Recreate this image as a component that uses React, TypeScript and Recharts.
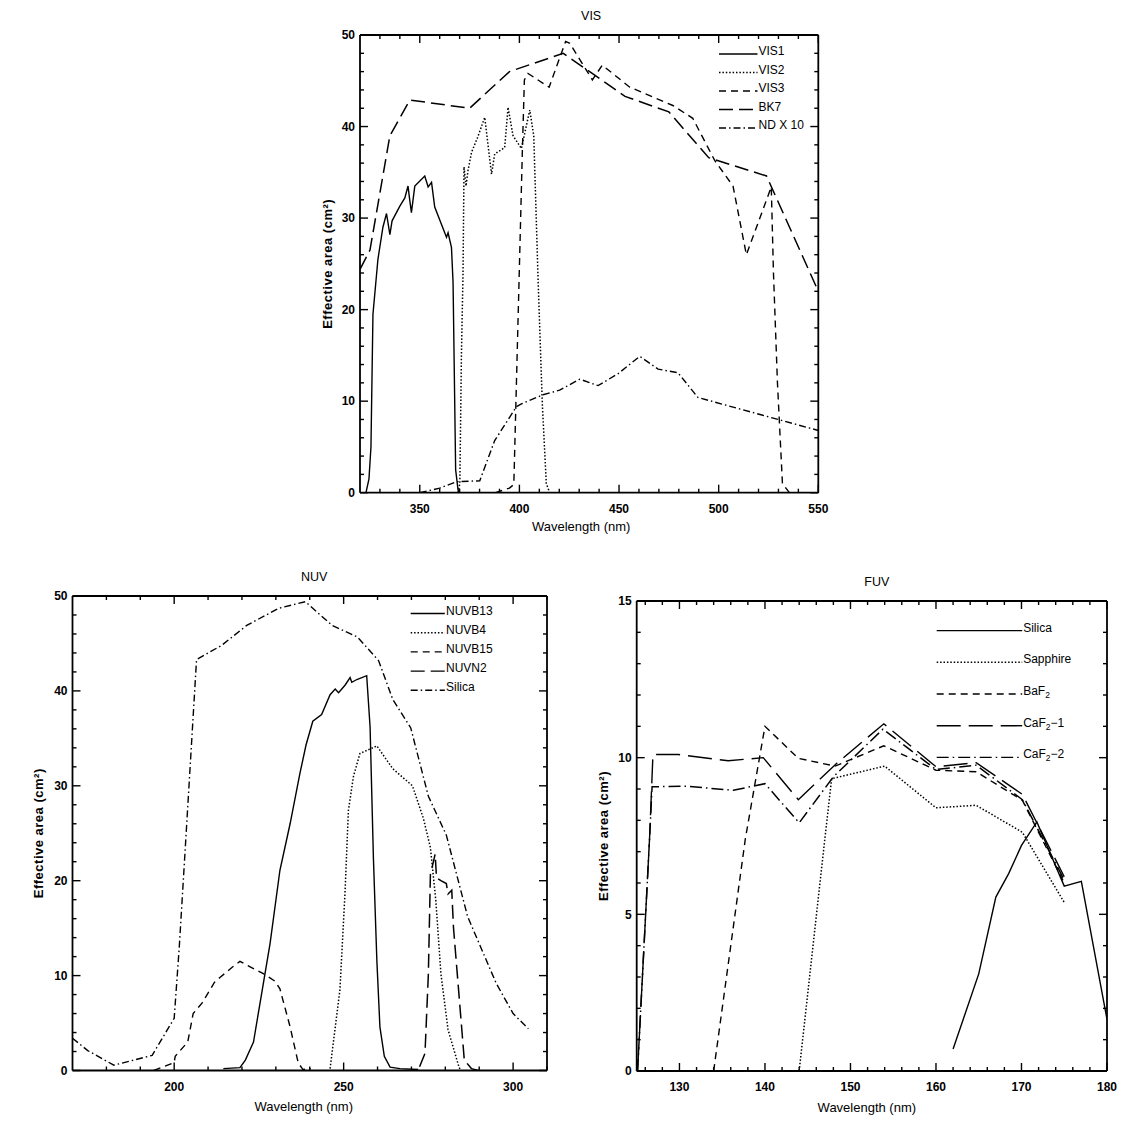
import React from 'react';
import { LineChart, Line, XAxis, YAxis } from 'recharts';

const FONT = '"Liberation Sans", Arial, Helvetica, sans-serif';

// ---------------- VIS panel data ----------------
const VIS_X_MAJOR = [350, 400, 450, 500, 550];
const VIS_Y_MAJOR = [0, 10, 20, 30, 40, 50];

const VIS1_WL = [323, 324.5, 325.5, 326.5, 329, 331.5, 333.3, 335, 336.1, 340, 342.5, 344.1, 345, 345.8, 347.5, 352.5, 354.2, 355.9, 357.5, 363.4, 364.2, 365.9, 366.7, 368, 369.2, 370];
const VIS1_AREA = [0, 1.5, 5, 19.5, 25.5, 29, 30.5, 28.2, 29.7, 31.3, 32.2, 33.5, 31.9, 30.6, 33.5, 34.6, 33.4, 33.9, 31.2, 27.9, 28.4, 26.8, 23, 2.5, 0.3, 0];

const VIS2_WL = [369.2, 370.1, 370.9, 371.7, 372.2, 373.2, 374.2, 376, 379, 382.6, 386, 387.6, 392.6, 394.3, 396.8, 401, 405.2, 407.2, 409.4, 411.5, 413.5, 415.2];
const VIS2_AREA = [0, 1, 15, 24, 35.6, 33.5, 35.2, 37.2, 38.8, 41, 34.8, 37, 37.7, 42.1, 39, 37.6, 41.8, 39, 23.1, 9.7, 1, 0];

const VIS3_WL = [388, 395, 397.2, 399.8, 401.5, 402.5, 404.3, 414.9, 423.2, 425.3, 436.6, 441.6, 455.4, 477, 487, 498, 507.2, 513.9, 526.4, 527.5, 529.5, 532, 535.5];
const VIS3_AREA = [0, 0.5, 0.9, 23, 37.5, 45.1, 45.8, 44.3, 49.3, 49.1, 45.1, 46.7, 44.3, 42.3, 40.9, 36.3, 33.5, 26, 33.4, 24, 12, 1, 0];

const BK7_WL = [320, 325, 335, 345, 375, 395, 422, 453, 475, 495, 524, 550];
const BK7_AREA = [24.4, 26.5, 39, 42.9, 42, 46, 48, 43.3, 41.6, 36.6, 34.6, 22];

const ND_WL = [350, 360, 368.4, 380.1, 387.6, 398.5, 401, 411.9, 420.2, 430.3, 439.5, 449.5, 460.4, 469.6, 479.6, 489.6, 550];
const ND_AREA = [0, 0.5, 1.2, 1.3, 5.7, 9.4, 9.7, 10.7, 11.2, 12.4, 11.7, 13, 14.9, 13.5, 13.1, 10.4, 6.8];

// ---------------- NUV panel data ----------------
const NUV_X_MAJOR = [200, 250, 300];
const NUV_Y_MAJOR = [0, 10, 20, 30, 40, 50];

const NUVB13_WL = [214.5, 219.4, 221, 223.4, 228.3, 231.2, 234.2, 237.1, 238.9, 240.9, 243.5, 246, 247.5, 248.5, 250.4, 251.9, 252.4, 253.9, 256.8, 257.8, 258.8, 259.8, 260.7, 262, 263.7, 266.6, 272];
const NUVB13_AREA = [0.2, 0.3, 1.1, 3, 13.4, 21.1, 26, 31.3, 34.3, 36.8, 37.5, 39.6, 40.2, 39.8, 40.6, 41.4, 40.9, 41.2, 41.6, 36.2, 22.2, 11.6, 4.6, 1.5, 0.35, 0.2, 0.1];

const NUVB4_WL = [246, 248.9, 250.4, 251.4, 252.9, 254.8, 259.8, 264.5, 270.3, 273.5, 275.6, 277.2, 278.7, 280.8, 284, 284.5];
const NUVB4_AREA = [0.2, 8.5, 18.7, 27.4, 31, 33.4, 34.2, 31.8, 30, 26.6, 23.5, 17.9, 10.2, 4.3, 0.4, 0];

const NUVB15_WL = [194, 200, 200.3, 204, 205.6, 208.2, 211.9, 213.5, 217.2, 219.4, 222, 226.3, 229.8, 231.2, 234.2, 236.6, 238, 240.3];
const NUVB15_AREA = [0, 0.84, 1.5, 3, 6, 7.1, 9.3, 9.8, 10.9, 11.5, 11, 10.2, 9.4, 8.6, 4.6, 0.8, 0.1, 0.2];

const NUVN2_WL = [272.4, 274, 275, 275.6, 276.1, 277, 277.4, 278.7, 280.3, 280.8, 281.9, 282.4, 284, 285.6, 287.7, 289.8];
const NUVN2_AREA = [0.4, 1.8, 10.2, 20.7, 21.4, 22.8, 20.3, 20, 19.7, 18.6, 19, 15.1, 8.1, 1.1, 0.2, 0];

const NSIL_WL = [170, 174.5, 182.2, 193.5, 200, 201.5, 203.2, 206.6, 214, 221.4, 230.8, 238.7, 246.6, 254, 260.3, 264.5, 269.8, 275, 280.3, 286.6, 295, 300, 304.5];
const NSIL_AREA = [3.4, 2.1, 0.56, 1.6, 5.5, 13, 23, 43.3, 44.8, 46.9, 48.7, 49.4, 46.9, 45.7, 43.2, 39.1, 36.1, 28.9, 24.8, 16.2, 9.2, 6, 4.4];

// ---------------- FUV panel data ----------------
const FUV_X_MAJOR = [130, 140, 150, 160, 170, 180];
const FUV_Y_MAJOR = [0, 5, 10, 15];

const FSIL_WL = [162, 165, 167, 168.5, 170, 171.8, 175, 177, 180];
const FSIL_AREA = [0.7, 3.1, 5.55, 6.3, 7.2, 7.95, 5.9, 6.05, 1.65];

const SAPH_WL = [144, 147, 147.8, 154, 160, 164.7, 170.1, 175];
const SAPH_AREA = [0, 7.4, 9.33, 9.73, 8.4, 8.48, 7.62, 5.38];

const BAF2_WL = [134, 137.7, 140, 143.9, 148.2, 153.9, 160, 164.7, 170.1, 175];
const BAF2_AREA = [0, 7.4, 11, 9.98, 9.73, 10.38, 9.6, 9.55, 8.64, 6.0];

const CAF1_WL = [125.1, 126.5, 126.9, 129.9, 135.7, 139.8, 143.9, 148.4, 153.9, 160, 164.7, 170.1, 175];
const CAF1_AREA = [0, 7.4, 10.1, 10.1, 9.9, 10, 8.66, 9.82, 11.08, 9.71, 9.84, 8.83, 6.2];

const CAF2_WL = [125.1, 126.5, 126.8, 130.7, 136.3, 140, 144, 148, 153.8, 160, 164.7, 170.1, 175];
const CAF2_AREA = [0, 7.4, 9.07, 9.09, 8.96, 9.17, 7.92, 9.39, 10.91, 9.62, 9.76, 8.66, 6.1];

// ---------------- helpers ----------------
const zip = (xs: number[], ys: number[]) => xs.map((x, i) => ({ x, y: ys[i] }));
const range = (a: number, b: number, s: number) => {
  const out: number[] = [];
  for (let v = a; v <= b + 1e-9; v += s) out.push(Math.round(v * 1000) / 1000);
  return out;
};

const DOT = '1.5 1.9';
const DASH = '7 5';
const LONG = '14 6';
const DASHDOT = '7 3 1.5 3';

type Series = { name: string; data: { x: number; y: number }[]; dash?: string };

type Side = 'bottom' | 'top' | 'left' | 'right';

const makeTick = (side: Side, majors: number[], labels: boolean) => (props: any) => {
  const { x, y, payload } = props;
  const v = payload.value;
  const isMajor = majors.some((m) => Math.abs(m - v) < 1e-6);
  const len = isMajor ? 8 : 4;
  let x2 = x;
  let y2 = y;
  if (side === 'bottom') y2 = y - len;
  if (side === 'top') y2 = y + len;
  if (side === 'left') x2 = x + len;
  if (side === 'right') x2 = x - len;
  return (
    <g>
      <line x1={x} y1={y} x2={x2} y2={y2} stroke="#000" strokeWidth={1.4} />
      {labels && isMajor && side === 'bottom' && (
        <text x={x} y={y + 20} textAnchor="middle" fontFamily={FONT} fontSize={12} fontWeight="bold" fill="#000">
          {v}
        </text>
      )}
      {labels && isMajor && side === 'left' && (
        <text x={x - 5} y={y + 4.3} textAnchor="end" fontFamily={FONT} fontSize={12} fontWeight="bold" fill="#000">
          {v}
        </text>
      )}
    </g>
  );
};

const renderLabel = (s: string) => {
  const parts = s.split('₂');
  if (parts.length === 1) return s;
  const out: any[] = [];
  parts.forEach((p, i) => {
    if (i > 0) {
      out.push(
        <tspan key={'s' + i} fontSize={8.5} dy={3}>
          2
        </tspan>
      );
      out.push(
        <tspan key={'p' + i} dy={-3}>
          {p}
        </tspan>
      );
    } else out.push(<tspan key={'p' + i}>{p}</tspan>);
  });
  return out;
};

type PanelCfg = {
  title: string;
  left: number;
  top: number;
  width: number;
  height: number;
  margin: { top: number; right: number; bottom: number; left: number };
  xDomain: [number, number];
  yDomain: [number, number];
  xMajor: number[];
  xMinor: number[];
  yMajor: number[];
  yMinor: number[];
  series: Series[];
  legend: { x0: number; x1: number; tx: number; y0: number; dy: number; tdy: number };
  titleDx: number;
  xLabelDx: number;
  xLabelDy: number;
  yLabelDx: number;
};

// axes take 1px of room each (Recharts skips drawing zero-size axes)
const AX = 1;

function Panel({ cfg }: { cfg: PanelCfg }) {
  const m = cfg.margin;
  const pw = cfg.width - m.left - m.right;
  const ph = cfg.height - m.top - m.bottom;
  const chartMargin = { top: m.top - AX, right: m.right - AX, bottom: m.bottom - AX, left: m.left - AX };
  const axisLine = { stroke: '#000', strokeWidth: 1.8 };
  const common = {
    type: 'number' as const,
    allowDataOverflow: true,
    interval: 0 as const,
    tickLine: false,
    tickSize: 0,
    tickMargin: 0,
    axisLine,
  };
  const cx = m.left + pw / 2;
  const cy = m.top + ph / 2;
  return (
    <div style={{ position: 'absolute', left: cfg.left, top: cfg.top, width: cfg.width, height: cfg.height }}>
      <LineChart width={cfg.width} height={cfg.height} margin={chartMargin}>
        <XAxis
          {...common}
          xAxisId="b"
          orientation="bottom"
          dataKey="x"
          height={AX}
          domain={cfg.xDomain}
          ticks={cfg.xMinor}
          tick={makeTick('bottom', cfg.xMajor, true)}
        />
        <XAxis
          {...common}
          xAxisId="t"
          orientation="top"
          dataKey="x"
          height={AX}
          domain={cfg.xDomain}
          ticks={cfg.xMinor}
          tick={makeTick('top', cfg.xMajor, false)}
        />
        <YAxis
          {...common}
          yAxisId="l"
          orientation="left"
          width={AX}
          domain={cfg.yDomain}
          ticks={cfg.yMinor}
          tick={makeTick('left', cfg.yMajor, true)}
        />
        <YAxis
          {...common}
          yAxisId="r"
          orientation="right"
          width={AX}
          domain={cfg.yDomain}
          ticks={cfg.yMinor}
          tick={makeTick('right', cfg.yMajor, false)}
        />
        {cfg.series.map((s) => (
          <Line
            key={s.name}
            xAxisId="b"
            yAxisId="l"
            data={s.data}
            dataKey="y"
            name={s.name}
            type="linear"
            stroke="#000"
            strokeWidth={s.dash && s.dash.startsWith('1') ? 1.5 : 1.4}
            strokeDasharray={s.dash}
            dot={false}
            activeDot={false}
            isAnimationActive={false}
          />
        ))}
        <text x={cx + cfg.titleDx} y={m.top - 15.5} textAnchor="middle" fontFamily={FONT} fontSize={12.5} fill="#000">
          {cfg.title}
        </text>
        <text
          x={cx + cfg.xLabelDx}
          y={m.top + ph + cfg.xLabelDy}
          textAnchor="middle"
          fontFamily={FONT}
          fontSize={13}
          fill="#000"
        >
          Wavelength (nm)
        </text>
        <text
          x={m.left + cfg.yLabelDx}
          y={cy}
          transform={`rotate(-90, ${m.left + cfg.yLabelDx}, ${cy})`}
          textAnchor="middle"
          dominantBaseline="central"
          fontFamily={FONT}
          fontSize={13}
          fontWeight="bold"
          letterSpacing={0.5}
          fill="#000"
        >
          Effective area (cm²)
        </text>
        <g>
          {cfg.series.map((s, i) => {
            const ly = m.top + cfg.legend.y0 + i * cfg.legend.dy;
            return (
              <g key={'lg' + s.name}>
                <line
                  x1={m.left + cfg.legend.x0}
                  x2={m.left + cfg.legend.x1}
                  y1={ly}
                  y2={ly}
                  stroke="#000"
                  strokeWidth={1.4}
                  strokeDasharray={s.dash}
                />
                <text x={m.left + cfg.legend.tx} y={ly + cfg.legend.tdy} fontFamily={FONT} fontSize={12} fill="#000">
                  {renderLabel(s.name)}
                </text>
              </g>
            );
          })}
        </g>
      </LineChart>
    </div>
  );
}

const VIS_CFG: PanelCfg = {
  title: 'VIS',
  left: 300,
  top: 0,
  width: 540,
  height: 540,
  margin: { top: 35, right: 21.7, bottom: 47.3, left: 60 },
  xDomain: [320, 550],
  yDomain: [0, 50],
  xMajor: VIS_X_MAJOR,
  xMinor: range(330, 550, 10),
  yMajor: VIS_Y_MAJOR,
  yMinor: range(0, 50, 2),
  series: [
    { name: 'VIS1', data: zip(VIS1_WL, VIS1_AREA) },
    { name: 'VIS2', data: zip(VIS2_WL, VIS2_AREA), dash: DOT },
    { name: 'VIS3', data: zip(VIS3_WL, VIS3_AREA), dash: DASH },
    { name: 'BK7', data: zip(BK7_WL, BK7_AREA), dash: LONG },
    { name: 'ND X 10', data: zip(ND_WL, ND_AREA), dash: DASHDOT },
  ],
  legend: { x0: 359, x1: 397.5, tx: 398.5, y0: 19, dy: 18.5, tdy: 1 },
  titleDx: 2,
  xLabelDx: -8,
  xLabelDy: 38,
  yLabelDx: -32.5,
};

const NUV_CFG: PanelCfg = {
  title: 'NUV',
  left: 0,
  top: 560,
  width: 570,
  height: 563,
  margin: { top: 36, right: 23, bottom: 52.5, left: 72.5 },
  xDomain: [170, 310],
  yDomain: [0, 50],
  xMajor: NUV_X_MAJOR,
  xMinor: range(180, 310, 10),
  yMajor: NUV_Y_MAJOR,
  yMinor: range(0, 50, 2),
  series: [
    { name: 'NUVB13', data: zip(NUVB13_WL, NUVB13_AREA) },
    { name: 'NUVB4', data: zip(NUVB4_WL, NUVB4_AREA), dash: DOT },
    { name: 'NUVB15', data: zip(NUVB15_WL, NUVB15_AREA), dash: DASH },
    { name: 'NUVN2', data: zip(NUVN2_WL, NUVN2_AREA), dash: LONG },
    { name: 'Silica', data: zip(NSIL_WL, NSIL_AREA), dash: DASHDOT },
  ],
  legend: { x0: 338.2, x1: 372.3, tx: 373.5, y0: 17.5, dy: 19.2, tdy: 1 },
  titleDx: 4.5,
  xLabelDx: -6,
  xLabelDy: 40,
  yLabelDx: -34,
};

const FUV_CFG: PanelCfg = {
  title: 'FUV',
  left: 580,
  top: 560,
  width: 542,
  height: 563,
  margin: { top: 41, right: 15, bottom: 52, left: 56.7 },
  xDomain: [125, 180],
  yDomain: [0, 15],
  xMajor: FUV_X_MAJOR,
  xMinor: range(126, 180, 2),
  yMajor: FUV_Y_MAJOR,
  yMinor: range(0, 15, 1),
  series: [
    { name: 'Silica', data: zip(FSIL_WL, FSIL_AREA) },
    { name: 'Sapphire', data: zip(SAPH_WL, SAPH_AREA), dash: '1.5 1.9' },
    { name: 'BaF₂', data: zip(BAF2_WL, BAF2_AREA), dash: '7 5' },
    { name: 'CaF₂−1', data: zip(CAF1_WL, CAF1_AREA), dash: '24 8' },
    { name: 'CaF₂−2', data: zip(CAF2_WL, CAF2_AREA), dash: '12 4 1.5 4' },
  ],
  legend: { x0: 300, x1: 385.5, tx: 386.5, y0: 29.6, dy: 31.7, tdy: 1 },
  titleDx: 5,
  xLabelDx: -5,
  xLabelDy: 40.5,
  yLabelDx: -33.7,
};

export default function App() {
  return (
    <div style={{ position: 'absolute', left: 0, top: 0, width: 1122, height: 1123, background: '#fff' }}>
      <Panel cfg={VIS_CFG} />
      <Panel cfg={NUV_CFG} />
      <Panel cfg={FUV_CFG} />
    </div>
  );
}
